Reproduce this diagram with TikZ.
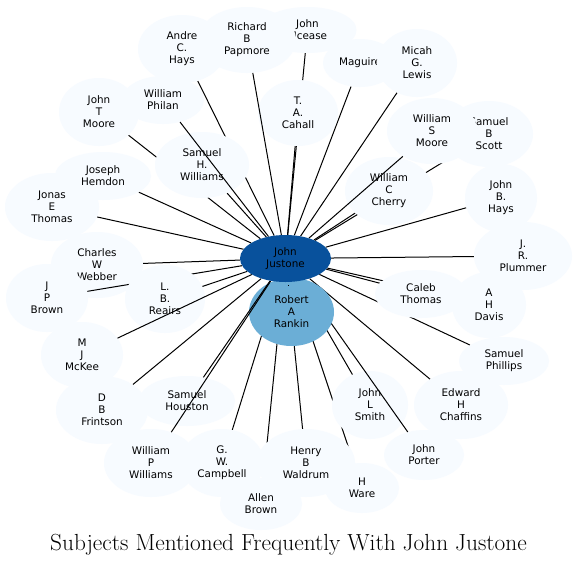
\documentclass[tikz,border=0pt]{standalone}
\usepackage{fontspec}
\newfontfamily\nodefont{DejaVu Sans}
\usetikzlibrary{shapes.geometric}
\pgfdeclarelayer{l0}
\pgfdeclarelayer{l1}
\pgfdeclarelayer{l2}
\pgfdeclarelayer{l3}
\pgfdeclarelayer{l4}
\pgfdeclarelayer{l5}
\pgfdeclarelayer{l6}
\pgfsetlayers{l0,l1,l2,l3,l4,l5,l6,main}
\definecolor{pale}{HTML}{F7FBFF}
\definecolor{jjblue}{HTML}{08519C}
\definecolor{rbblue}{HTML}{6BAED6}
\tikzset{
  person/.style={ellipse, fill=pale, inner sep=0pt, align=center,
    font=\nodefont\fontsize{10.4}{12}\selectfont, text=black},
  sz/.style 2 args={minimum width={2*#1pt}, minimum height={2*#2pt}},
  link/.style={draw=black, line width=1pt},
  titlefont/.style={font=\fontsize{23.3}{27}\selectfont}
}
\begin{document}
\begin{tikzpicture}[x=1pt,y=-1pt]
\begin{pgfonlayer}{l0}
\fill[white] (0,0) rectangle (578,566);
\end{pgfonlayer}
\useasboundingbox (0,0) rectangle (578,566);

% peripheral nodes
\begin{pgfonlayer}{l1}
\node[person, sz={47}{34}] (jonas) at (52,207) {Jonas\\E\\Thomas};
\node[person, sz={48}{24}] (herndon) at (103,176) {Joseph\\Hemdon};
\node[person, sz={40}{34}] (jtmoore) at (99,112) {John\\T\\Moore};
\node[person, sz={41}{24}] (philan) at (163,100) {William\\Philan};
\node[person, sz={44}{34}] (andre) at (182,49) {Andre\\C.\\Hays};
\node[person, sz={49}{23}] (mcease) at (307.5,30) {John\\Mcease};
\node[person, sz={49}{33}] (richard) at (247,40) {Richard\\B\\Papmore};
\node[person, sz={40}{33}] (cahall) at (298,113) {T.\\A.\\Cahall};
\node[person, sz={37}{24}] (maguire) at (360,63) {Maguire};
\node[person, sz={40}{34}] (micah) at (417,63) {Micah\\G.\\Lewis};
\node[person, sz={44}{33}] (scott) at (489,134) {Samuel\\B\\Scott};
\node[person, sz={45}{33}] (wsm) at (432,131) {William\\S\\Moore};
\node[person, sz={44}{34}] (cherry) at (389,191) {William\\C\\Cherry};
\node[person, sz={36}{34}] (jbhays) at (501,198) {John\\B.\\Hays};
\node[person, sz={37}{33}] (davis) at (489,305) {A\\H\\Davis};
\node[person, sz={49}{34}] (plummer) at (523,256) {J.\\R.\\Plummer};
\node[person, sz={46}{24}] (caleb) at (421,294) {Caleb\\Thomas};
\node[person, sz={45}{24}] (phillips) at (504,361) {Samuel\\Phillips};
\node[person, sz={47}{34}] (chaffins) at (461,405) {Edward\\H\\Chaffins};
\node[person, sz={38}{34}] (jlsmith) at (370,405) {John\\L\\Smith};
\node[person, sz={40}{25}] (porter) at (424,455) {John\\Porter};
\node[person, sz={37}{25}] (ware) at (362,488) {H\\Ware};
\node[person, sz={41}{26}] (allen) at (261,504) {Allen\\Brown};
\node[person, sz={49}{34}] (waldrum) at (306,463) {Henry\\B\\Waldrum};
\node[person, sz={42}{34}] (campbell) at (222,463) {G.\\W.\\Campbell};
\node[person, sz={47}{34}] (wpw) at (151,463) {William\\P\\Williams};
\node[person, sz={48}{25}] (houston) at (187,401) {Samuel\\Houston};
\node[person, sz={46}{34}] (frintson) at (102,410) {D\\B\\Frintson};
\node[person, sz={41}{33}] (mckee) at (82,355) {M\\J\\McKee};
\node[person, sz={46}{33}] (webber) at (97,265) {Charles\\W\\Webber};
\node[person, sz={41}{34}] (jpbrown) at (47,298) {J\\P\\Brown};
\node[person, sz={47}{33}] (shw) at (202,165) {Samuel\\H.\\Williams};
\end{pgfonlayer}

\begin{pgfonlayer}{l3}
\node[person, sz={40}{34}] (reairs) at (165,299) {L.\\B.\\Reairs};
\end{pgfonlayer}

\begin{pgfonlayer}{l5}
\node[person, fill=rbblue, sz={42.5}{34}] (rob) at (291.5,312) {Robert\\A\\Rankin};
\end{pgfonlayer}

\node[person, fill=jjblue, sz={45.5}{23.5}] (jj) at (285.5,258.5) {John\\Justone};

% connectors
\begin{pgfonlayer}{l0}
\foreach \t in {andre,mcease,scott,davis,jtmoore,ware,allen,cahall,maguire,micah,cherry,jbhays,plummer,caleb,phillips,chaffins,jlsmith,waldrum,campbell,frintson,reairs,webber,jonas,herndon,shw}
  \draw[link] (jj) -- (\t);
\end{pgfonlayer}
\begin{pgfonlayer}{l2}
\foreach \t in {philan,wsm,jpbrown,porter,richard}
  \draw[link] (jj) -- (\t);
\end{pgfonlayer}
\begin{pgfonlayer}{l4}
\draw[link] (jj) -- (mckee);
\end{pgfonlayer}
\begin{pgfonlayer}{l6}
\draw[link] (jj) -- (houston);
\draw[link] (jj) -- (wpw);
\end{pgfonlayer}
\draw[link] ([xshift=2.5pt,yshift=-2.6pt]jj.south) -- ([xshift=2.5pt,yshift=-3.8pt]jj.south);

\node[titlefont, anchor=base] (title) at (288.5,550) {Subjects Mentioned Frequently With John Justone};
\end{tikzpicture}
\end{document}
